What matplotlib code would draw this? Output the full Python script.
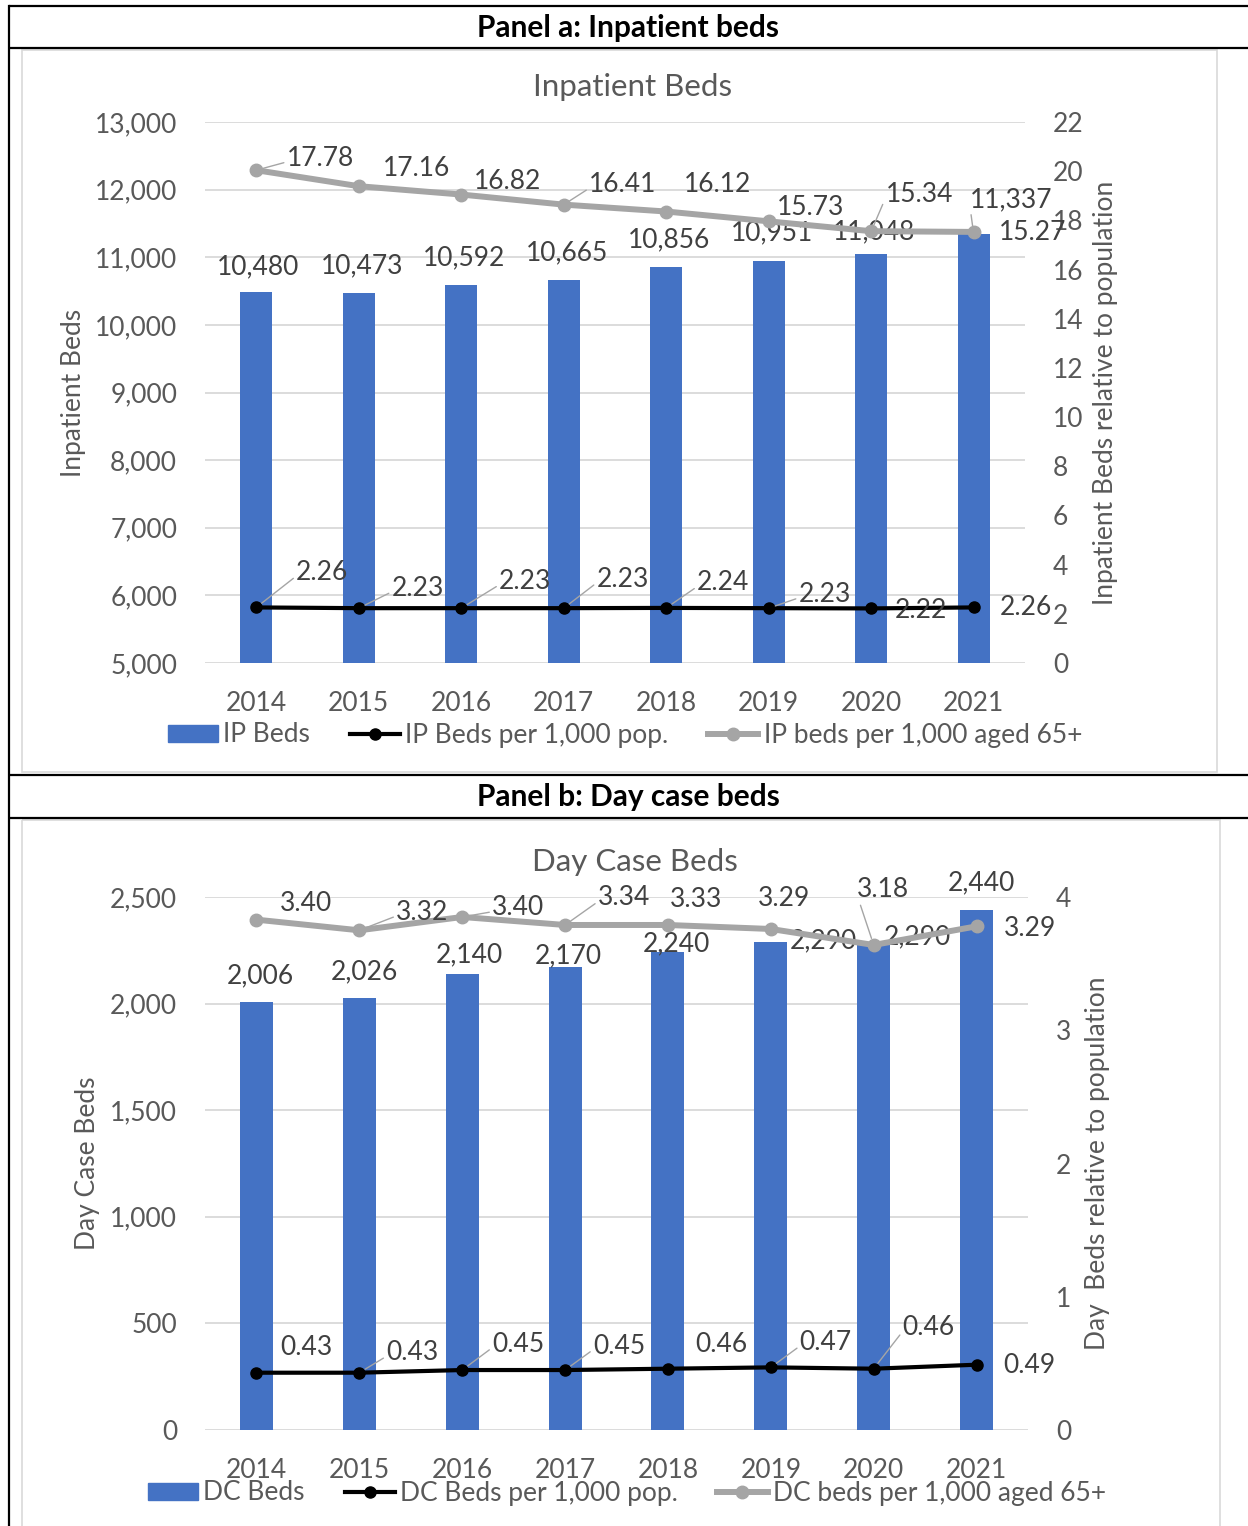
import matplotlib
matplotlib.use("Agg")
import matplotlib.pyplot as plt
from matplotlib.patches import Patch
from matplotlib.lines import Line2D
import numpy as np

plt.rcParams['font.family'] = ['Lato', 'DejaVu Sans']

# ---------------- data ----------------
years = ["2014", "2015", "2016", "2017", "2018", "2019", "2020", "2021"]

ip_beds = [10480, 10473, 10592, 10665, 10856, 10951, 11048, 11337]
ip_per_pop = [2.26, 2.23, 2.23, 2.23, 2.24, 2.23, 2.22, 2.26]
ip_per_65 = [17.78, 17.16, 16.82, 16.41, 16.12, 15.73, 15.34, 15.27]

dc_beds = [2006, 2026, 2140, 2170, 2240, 2290, 2290, 2440]
dc_per_pop = [0.43, 0.43, 0.45, 0.45, 0.46, 0.47, 0.46, 0.49]
dc_per_65 = [3.40, 3.32, 3.40, 3.34, 3.33, 3.29, 3.18, 3.29]

ip_left_ticks = [5000, 6000, 7000, 8000, 9000, 10000, 11000, 12000, 13000]
ip_right_ticks = [0, 2, 4, 6, 8, 10, 12, 14, 16, 18, 20, 22]
dc_left_ticks = [0, 500, 1000, 1500, 2000, 2500]
dc_right_ticks = [0, 1, 2, 3, 4]

# ---------------- label placement (pixel offsets, styling only) ----------------
ip_bar_off = [(2, 26), (3, 27), (3, 27), (3, 27), (3, 27), (3, 28), (3, 22), (37, 35)]
ip_bar_lead = [0, 0, 0, 0, 0, 0, 0, 1]
ip_65_off = [(64, 12), (58, 18), (46, 13), (59, 20), (51, 27), (42, 14), (48, 37), (59, -1)]
ip_65_lead = [1, 0, 0, 1, 0, 0, 1, 0]
ip_pop_off = [(66, 35), (59, 20), (64, 27), (59, 29), (57, 25), (56, 14), (50, -2), (52, 0)]
ip_pop_lead = [1, 1, 1, 1, 1, 1, 0, 0]

dc_bar_off = [(4, 27), (5, 26), (7, 19), (3, 12), (9, 9), (53, 1), (44, 5), (5, 27)]
dc_bar_lead = [0] * 8
dc_65_off = [(50, 16), (63, 18), (56, 9), (59, 27), (28, 25), (13, 30), (9, 55), (53, -2)]
dc_65_lead = [0, 1, 1, 1, 0, 0, 1, 0]
dc_pop_off = [(50, 25), (53, 20), (56, 26), (54, 24), (53, 24), (55, 25), (55, 41), (53, -1)]
dc_pop_lead = [0, 1, 1, 1, 0, 1, 1, 0]

W, H = 1248, 1526
fig = plt.figure(figsize=(W / 100, H / 100), dpi=100)

BLUE = "#4472C4"
GRAY = "#A5A5A5"
TXT = "#595959"
LBL = "#404040"
GRID = "#D9D9D9"
FS = 19

# background / table overlay
bg = fig.add_axes([0, 0, 1, 1], zorder=0)
bg.set_xlim(0, W)
bg.set_ylim(H, 0)
bg.axis("off")
for y in [6, 48, 775, 818]:
    bg.plot([9, W], [y, y], color="black", lw=1.6, solid_capstyle="butt")
bg.plot([9, 9], [6, H], color="black", lw=1.6)
# chart area frames
bg.add_patch(plt.Rectangle((22, 50), 1195, 722, fill=False, ec=GRID, lw=1.2))
bg.add_patch(plt.Rectangle((22, 820), 1198, 720, fill=False, ec=GRID, lw=1.2))
bg.text(628, 28, "Panel a: Inpatient beds", ha="center", va="center",
        fontsize=21.5, fontweight="bold", color="black")
bg.text(628, 797, "Panel b: Day case beds", ha="center", va="center",
        fontsize=21.5, fontweight="bold", color="black")


def rect(l, r, t, b):
    return [l / W, (H - b) / H, (r - l) / W, (b - t) / H]


def label(ax, x, y, txt, off, lead):
    kw = {}
    if lead:
        kw["arrowprops"] = dict(arrowstyle="-", color=GRAY, lw=1.0,
                                shrinkA=0, shrinkB=5, relpos=(0.0, 0.35))
    ax.annotate(txt, (x, y), xytext=off, textcoords="offset pixels",
                ha="center", va="center", fontsize=FS, color=LBL, zorder=6, **kw)


def panel(box, title, bars, pop, p65, lticks, rticks, lylabel, rylabel,
          lx, rx, names, offs, legend_y, bar_w, legend_x):
    l, r, t, b = box
    ax = fig.add_axes(rect(l, r, t, b), zorder=1)
    ax.set_facecolor("none")
    x = np.arange(len(years))
    ax.bar(x, bars, width=bar_w, color=BLUE, zorder=2)
    ax.set_xlim(-0.5, len(years) - 0.5)
    ax.set_ylim(lticks[0], lticks[-1])
    ax.set_yticks(lticks)
    ax.set_yticklabels([f"{v:,}" for v in lticks])
    ax.set_xticks(x)
    ax.set_xticklabels(years)
    ax.yaxis.grid(True, color=GRID, lw=1.3, zorder=0)
    ax.set_axisbelow(True)
    for s in ax.spines.values():
        s.set_visible(False)
    ax.tick_params(axis="both", length=0, labelsize=FS, colors=TXT)
    ax.tick_params(axis="y", pad=20)
    ax.tick_params(axis="x", pad=20)

    ax2 = ax.twinx()
    ax2.set_ylim(rticks[0], rticks[-1])
    ax2.set_yticks(rticks)
    ax2.set_yticklabels([str(v) for v in rticks])
    for s in ax2.spines.values():
        s.set_visible(False)
    ax2.tick_params(axis="y", length=0, labelsize=FS, colors=TXT, pad=20)

    stacked = np.array(pop) + np.array(p65)  # Excel stacked line
    ax2.plot(x, stacked, color=GRAY, lw=4.3, marker="o", ms=9, zorder=3)
    ax2.plot(x, pop, color="black", lw=3.0, marker="o", ms=8, zorder=4)

    bo, bl, go, gl, po, pl = offs
    for i in range(len(years)):
        label(ax, x[i], bars[i], f"{bars[i]:,}", bo[i], bl[i])
        label(ax2, x[i], stacked[i], f"{p65[i]:.2f}", go[i], gl[i])
        label(ax2, x[i], pop[i], f"{pop[i]:.2f}", po[i], pl[i])

    cy = (t + b) / 2
    fig.text(lx / W, 1 - cy / H, lylabel, rotation=90, ha="center", va="center",
             fontsize=FS, color=TXT)
    fig.text(rx / W, 1 - cy / H, rylabel, rotation=90, ha="center", va="center",
             fontsize=FS, color=TXT)
    fig.text(((l + r) / 2 + 18) / W, 1 - (t - 35) / H, title, ha="center", va="center",
             fontsize=22.5, color=TXT)

    handles = [Patch(color=BLUE),
               Line2D([], [], color="black", lw=3.0, marker="o", ms=8),
               Line2D([], [], color=GRAY, lw=4.3, marker="o", ms=9)]
    fig.legend(handles, names, loc="center", bbox_to_anchor=(legend_x / W, 1 - legend_y / H),
               ncol=3, frameon=False, fontsize=FS, labelcolor=TXT,
               handlelength=1.9, handletextpad=0.2, columnspacing=1.5,
               handleheight=0.6)


panel((205, 1025, 122, 663), "Inpatient Beds", ip_beds, ip_per_pop, ip_per_65,
      ip_left_ticks, ip_right_ticks, "Inpatient Beds", "Inpatient Beds relative to population",
      73, 1105,
      ["IP Beds", "IP Beds per 1,000 pop.", "IP beds per 1,000 aged 65+"],
      (ip_bar_off, ip_bar_lead, ip_65_off, ip_65_lead, ip_pop_off, ip_pop_lead),
      735, 0.31, 625)

panel((205, 1028, 897, 1430), "Day Case Beds", dc_beds, dc_per_pop, dc_per_65,
      dc_left_ticks, dc_right_ticks, "Day Case Beds", "Day  Beds relative to population",
      88, 1097,
      ["DC Beds", "DC Beds per 1,000 pop.", "DC beds per 1,000 aged 65+"],
      (dc_bar_off, dc_bar_lead, dc_65_off, dc_65_lead, dc_pop_off, dc_pop_lead),
      1493, 0.32, 627)

fig.savefig("out.png", dpi=100)
